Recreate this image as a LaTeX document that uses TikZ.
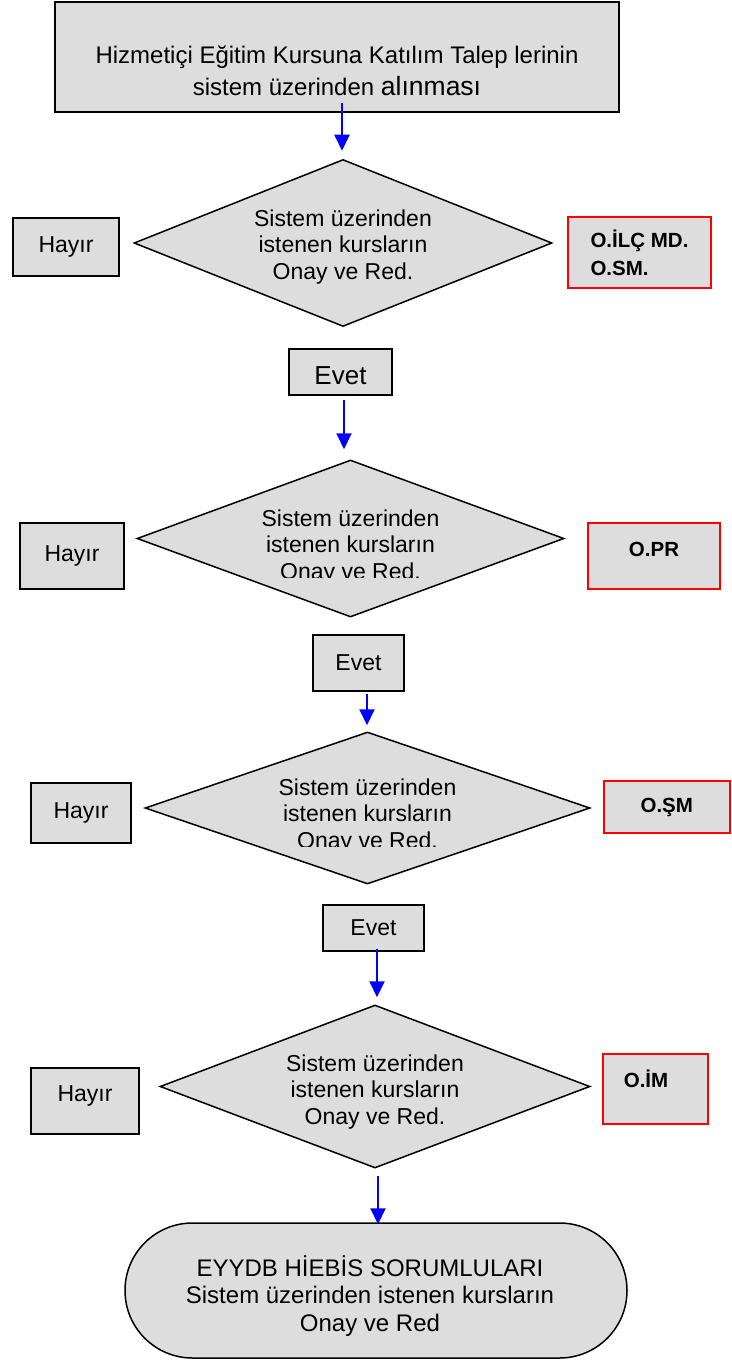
\documentclass[tikz,border=0pt]{standalone}
\usepackage{fontspec}
\setmainfont{Liberation Sans}
\usetikzlibrary{shapes.geometric,shapes.misc,arrows.meta}
\definecolor{boxgray}{RGB}{221,221,221}
\definecolor{arrblue}{RGB}{0,0,255}
\definecolor{redline}{RGB}{255,0,0}
\begin{document}
\begin{tikzpicture}[x=1pt,y=-1pt,
  gbox/.style={draw=black,line width=1.6pt,fill=boxgray,inner sep=0pt,rectangle,font=\fontsize{23}{26.5}\selectfont},
  rbox/.style={draw=redline,line width=2pt,fill=boxgray,inner sep=0pt,rectangle,align=left,font=\bfseries\fontsize{20.5}{28}\selectfont},
  dia/.style={diamond,draw=black,line width=1.5pt,fill=boxgray,inner sep=0pt,aspect=2.5},
  term/.style={rounded rectangle,draw=black,line width=1.5pt,fill=boxgray,inner sep=0pt},
  txt/.style={inner sep=0pt,align=center,font=\fontsize{23}{26.5}\selectfont},
  btxt/.style={inner sep=0pt,align=left,font=\bfseries\fontsize{20.5}{28}\selectfont},
  arr/.style={draw=arrblue,line width=2pt,-{Triangle[width=15pt,length=16pt]}}]
\useasboundingbox[fill=white] (0,0) rectangle (731,1364);

% top box
\node[gbox,minimum width=564pt,minimum height=110pt] (top) at (337,57) {};
\node[txt,font=\fontsize{24}{32}\selectfont] (toptxt) at (337,71)
  {Hizmetiçi Eğitim Kursuna Katılım Talep lerinin\\sistem üzerinden {\fontsize{26.5}{32}\selectfont alınması}};

% level 1
\node[dia,minimum width=418pt,minimum height=167pt] (d1) at (343,243) {};
\node[txt] (d1t) at (343,247) {Sistem üzerinden\\istenen kursların\\Onay ve Red.};
\node[gbox,minimum width=106pt,minimum height=58pt] (h1) at (66,247) {Hayır};
\node[rbox,minimum width=143pt,minimum height=71pt] (r1) at (639.5,252.5) {O.İLÇ MD.\\O.SM.};
\node[gbox,minimum width=103pt,minimum height=46pt] (e1) at (340.5,372) {};
\node[txt,font=\fontsize{26}{30}\selectfont] (e1t) at (340.5,376) {Evet};

% level 2
\node[dia,minimum width=427pt,minimum height=157pt] (d2) at (350.5,538.5) {};
\begin{scope}
  \clip ([yshift=90pt]d2.west) rectangle ([yshift=-38.5pt]d2.east);
  \node[txt] (d2t) at (350.5,547) {Sistem üzerinden\\istenen kursların\\Onay ve Red.};
\end{scope}
\node[gbox,minimum width=104pt,minimum height=66pt] (h2) at (72,556) {Hayır};
\node[rbox,minimum width=132pt,minimum height=66pt] (r2) at (654,556) {};
\node[btxt] (r2t) at (654,549) {O.PR};
\node[gbox,minimum width=91pt,minimum height=56pt] (e2) at (358.5,663) {Evet};

% level 3
\node[dia,minimum width=445pt,minimum height=152pt] (d3) at (367.5,808) {};
\begin{scope}
  \clip ([yshift=90pt]d3.west) rectangle ([yshift=-38pt]d3.east);
  \node[txt] (d3t) at (367.5,816) {Sistem üzerinden\\istenen kursların\\Onay ve Red.};
\end{scope}
\node[gbox,minimum width=100pt,minimum height=60pt] (h3) at (81,813) {Hayır};
\node[rbox,minimum width=125.5pt,minimum height=52pt] (r3) at (666.75,807) {O.ŞM};
\node[gbox,minimum width=101pt,minimum height=46pt] (e3) at (373.5,928) {Evet};

% level 4
\node[dia,minimum width=430pt,minimum height=163pt] (d4) at (375,1086.5) {};
\node[txt] (d4t) at (375,1092) {Sistem üzerinden\\istenen kursların\\Onay ve Red.};
\node[gbox,minimum width=108pt,minimum height=66pt] (h4) at (85,1101) {};
\node[txt] (h4t) at (85,1096) {Hayır};
\node[rbox,minimum width=105pt,minimum height=70pt] (r4) at (655.5,1089) {};
\node[btxt] (r4t) at (646,1079) {O.İM};

% terminal
\node[term,minimum width=502pt,minimum height=135pt] (end) at (376,1290.5) {};
\node[txt,font=\fontsize{24}{27.5}\selectfont] (endt) at (370,1296)
  {EYYDB HİEBİS SORUMLULARI\\Sistem üzerinden istenen kursların\\Onay ve Red};

% arrows
\draw[arr] ([xshift=5pt,yshift=10pt]top.south) -- ([xshift=-1pt,yshift=8pt]d1.north);
\draw[arr] ([xshift=3.5pt,yshift=-4pt]e1.south) -- ([xshift=-6.5pt,yshift=10pt]d2.north);
\draw[arr] ([xshift=8.5pt,yshift=-2pt]e2.south) -- ([xshift=-0.5pt,yshift=6pt]d3.north);
\draw[arr] ([xshift=3.5pt,yshift=3pt]e3.south) -- ([xshift=2pt,yshift=7pt]d4.north);
\draw[arr] ([xshift=3pt,yshift=-7pt]d4.south) -- ([xshift=2pt,yshift=-2pt]end.north);
\end{tikzpicture}
\end{document}
